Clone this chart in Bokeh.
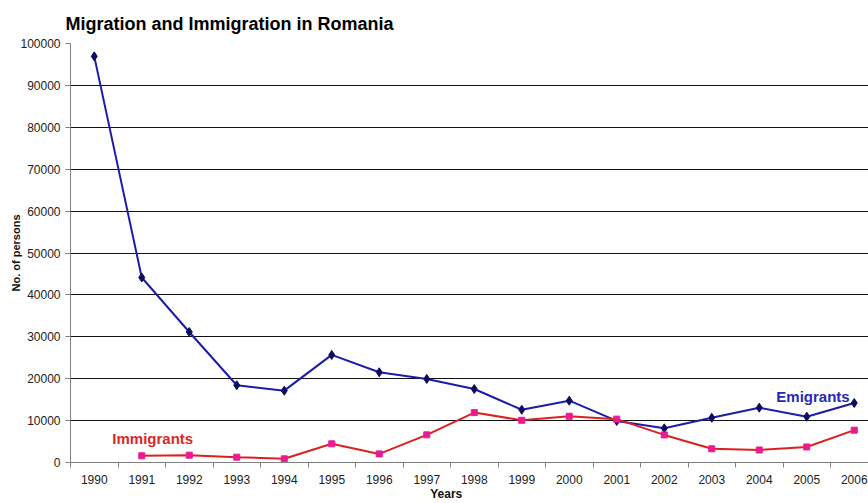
from bokeh.plotting import figure
from bokeh.models import (Range1d, FixedTicker, NumeralTickFormatter, Label,
                          ColumnDataSource, LinearAxis, CustomJSTickFormatter)
from bokeh.embed import file_html
from bokeh.resources import INLINE

years = [1990, 1991, 1992, 1993, 1994, 1995, 1996, 1997, 1998,
         1999, 2000, 2001, 2002, 2003, 2004, 2005, 2006]
emigrants = [96929, 44160, 31152, 18446, 17146, 25675, 21526, 19945, 17536,
             12594, 14753, 9921, 8154, 10673, 13082, 10938, 14197]
imm_years = [1991, 1992, 1993, 1994, 1995, 1996, 1997, 1998,
             1999, 2000, 2001, 2002, 2003, 2004, 2005, 2006]
immigrants = [1602, 1753, 1269, 878, 4458, 2053, 6600, 11907,
              10078, 11024, 10350, 6582, 3267, 2987, 3704, 7714]
y_ticks = [0, 10000, 20000, 30000, 40000, 50000, 60000, 70000, 80000, 90000, 100000]
title_text = "Migration and Immigration in Romania"
x_title = "Years"
y_title = "No. of persons"
emi_name = "Emigrants"
imm_name = "Immigrants"

FONT = "Liberation Sans"

p = figure(width=868, height=503, output_backend="svg", toolbar_location=None,
           x_range=Range1d(years[0] - 0.5, years[-1] + 0.3),
           y_range=Range1d(0, y_ticks[-1]),
           min_border_left=70, min_border_right=0, min_border_top=43,
           min_border_bottom=40, background_fill_color="white",
           border_fill_color="white")
p.outline_line_color = None

p.title.text = title_text
p.title.text_font = FONT
p.title.text_font_size = "18px"
p.title.text_font_style = "bold"
p.title.text_color = "black"
p.title.offset = -5
p.title.standoff = 20

# x axis
p.xaxis.ticker = FixedTicker(ticks=years, minor_ticks=[y - 0.5 for y in years])
p.xaxis.formatter = NumeralTickFormatter(format="0")
p.xaxis.major_tick_line_color = None
p.xaxis.major_tick_out = 5
p.xaxis.minor_tick_line_color = "#808080"
p.xaxis.minor_tick_out = 5
p.xaxis.minor_tick_in = 0
p.xaxis.axis_line_color = "#808080"
p.xaxis.major_label_text_font = FONT
p.xaxis.major_label_text_font_size = "12px"
p.xaxis.major_label_text_color = "#222222"
p.xaxis.major_label_standoff = 7

# x-axis title, placed under the year labels where the reference shows it
title_axis = LinearAxis(ticker=FixedTicker(ticks=[1997.41]),
                        formatter=CustomJSTickFormatter(code="return '%s'" % x_title))
title_axis.axis_line_color = None
title_axis.major_tick_line_color = None
title_axis.minor_tick_line_color = None
title_axis.major_tick_out = 0
title_axis.major_tick_in = 0
title_axis.major_label_standoff = 0
title_axis.major_label_text_font = FONT
title_axis.major_label_text_font_size = "12px"
title_axis.major_label_text_font_style = "bold"
title_axis.major_label_text_color = "#111111"
p.add_layout(title_axis, "below")

# y axis
p.yaxis.ticker = FixedTicker(ticks=y_ticks)
p.yaxis.formatter = NumeralTickFormatter(format="0")
p.yaxis.major_tick_line_color = "#808080"
p.yaxis.major_tick_out = 5
p.yaxis.major_tick_in = 0
p.yaxis.minor_tick_line_color = None
p.yaxis.axis_line_color = "#808080"
p.yaxis.major_label_text_font = FONT
p.yaxis.major_label_text_font_size = "12px"
p.yaxis.major_label_text_color = "#222222"
p.yaxis.major_label_standoff = 5
p.yaxis.axis_label = y_title
p.yaxis.axis_label_text_font = FONT
p.yaxis.axis_label_text_font_size = "11px"
p.yaxis.axis_label_text_font_style = "bold"
p.yaxis.axis_label_text_color = "#111111"
p.yaxis.axis_label_standoff = -5

p.xgrid.grid_line_color = None
p.ygrid.grid_line_color = "#111111"
p.ygrid.grid_line_width = 1

emi_src = ColumnDataSource(dict(x=years, y=emigrants))
imm_src = ColumnDataSource(dict(x=imm_years, y=immigrants))

p.line("x", "y", source=emi_src, line_color="#1c1ca8", line_width=2)
p.scatter("x", "y", source=emi_src, marker="diamond", size=9,
          fill_color="#0c0c5c", line_color="#0c0c5c")
p.line("x", "y", source=imm_src, line_color="#dc2020", line_width=2)
p.scatter("x", "y", source=imm_src, marker="square", size=6,
          fill_color="#ec1a90", line_color="#ec1a90")

p.add_layout(Label(x=1990.38, y=5640, text=imm_name, text_font=FONT,
                   text_font_size="15px", text_font_style="bold",
                   text_color="#d82828",
                   text_baseline="alphabetic", text_align="left"))
p.add_layout(Label(x=2004.36, y=15710, text=emi_name, text_font=FONT,
                   text_font_size="15px", text_font_style="bold",
                   text_color="#2828b4",
                   text_baseline="alphabetic", text_align="left"))

open("out.html", "w").write(file_html(p, INLINE))
